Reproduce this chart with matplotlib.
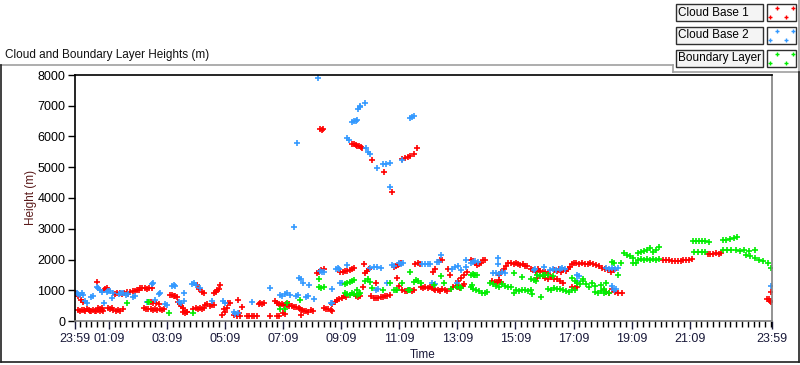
import matplotlib
matplotlib.use('Agg')
import matplotlib.pyplot as plt
from matplotlib.lines import Line2D
from matplotlib.patches import Rectangle

plt.rcParams['font.family'] = ['Liberation Sans', 'DejaVu Sans']

# hours after 23:59 and heights (m)
cb1_t = [0.00, 0.05, 0.10, 0.12, 0.18, 0.24, 0.30, 0.36, 0.42, 0.48, 0.20, 0.26,
         0.50, 0.56, 0.62, 0.68, 0.74, 0.80, 0.86, 0.92, 0.98, 0.75, 0.78, 0.85, 0.92,
         1.00, 1.05, 1.10, 1.15, 1.12, 1.20, 1.28, 1.32, 1.40, 1.48, 1.56, 1.64,
         1.38, 1.46, 1.54, 1.62, 1.70, 1.78, 1.84, 1.90, 1.98, 2.06, 2.14, 2.22,
         2.24, 2.32, 2.40, 2.48, 2.56, 2.64,
         2.36, 2.44, 2.52, 2.60, 2.68, 2.76, 2.84, 2.92, 3.00, 2.60, 2.70, 2.80, 2.88, 3.05,
         3.28, 3.34, 3.40, 3.46, 3.51, 3.55, 3.60, 3.66, 3.72, 3.78, 3.84, 3.72, 3.80, 3.86,
         4.08, 4.15, 4.22, 4.30, 4.38, 4.43, 4.20, 4.28, 4.36, 4.43,
         4.46, 4.55, 4.64, 4.72, 4.77, 4.77, 4.84, 4.90, 4.96, 5.00,
         5.06, 5.12, 5.18, 5.23, 5.28, 5.34, 5.46, 5.52, 5.58, 5.64, 5.69, 5.60, 5.76,
         5.92, 6.00, 6.08, 6.16, 6.26, 6.32, 6.38, 6.44, 6.50, 6.72,
         6.90, 6.96, 7.02, 7.07, 6.95, 7.02, 7.13, 7.20, 7.27, 7.36, 7.15, 7.22,
         7.30, 7.38, 7.46, 7.54, 7.62, 7.70, 7.76, 7.80, 7.88, 7.96, 8.04, 8.12, 8.20, 7.78,
         8.33, 8.40, 8.47, 8.56, 8.56, 8.64, 8.72, 8.80, 8.85,
         8.86, 8.94, 9.02, 9.10, 9.18, 9.26, 9.34, 9.14, 9.22, 9.30, 9.38, 9.46, 9.54, 9.60,
         9.66, 9.74, 9.82, 9.94, 10.00, 10.06, 10.12, 9.92,
         10.20, 10.28, 10.36, 10.44, 10.52, 10.60, 10.68, 10.76, 10.84, 10.38,
         11.00, 11.06, 11.12, 11.10, 11.14, 11.27, 11.35, 11.43, 11.51, 11.59, 11.66,
         11.15, 11.22, 11.72, 11.80, 11.88,
         11.90, 11.98, 12.06, 12.14, 12.22, 12.30, 12.36, 12.33, 12.38,
         12.41, 12.49, 12.57, 12.65, 12.73, 12.82, 12.56, 12.62, 12.85, 12.90,
         12.95, 13.03, 13.11, 13.19, 13.27, 13.35, 13.39, 13.20, 13.30, 13.40, 13.50,
         13.62, 13.70, 13.78, 13.85, 13.90, 13.98, 14.05, 14.12,
         14.37, 14.45, 14.53, 14.60, 14.66, 14.60, 14.68, 14.76, 14.84, 14.92, 15.00,
         15.10, 15.18, 15.26, 15.34, 15.42, 15.50, 15.58,
         15.70, 15.78, 15.86, 15.94, 16.02, 16.10, 16.20, 16.30, 15.90,
         16.10, 16.20, 16.30, 16.40, 16.50,
         16.50, 16.58, 16.66, 16.74, 16.82, 16.90, 16.98, 17.06, 16.60, 16.70, 16.80,
         17.10, 17.18, 17.26, 17.10, 17.20, 17.30,
         17.35, 17.45, 17.55, 17.65, 17.75, 17.85, 17.95,
         18.05, 18.15, 18.25, 18.35, 18.45, 18.20, 18.30, 18.40, 18.50, 18.60, 18.70, 18.85, 18.55,
         20.25, 20.35, 20.45, 20.55, 20.65, 20.75, 20.85, 20.95, 21.05, 21.15, 21.25,
         21.78, 21.88, 21.98, 22.08, 22.18, 22.24,
         23.82, 23.88, 23.93, 23.97, 23.97]
cb1_h = [900, 870, 820, 350, 330, 370, 360, 340, 380, 360, 680, 620,
         330, 310, 350, 340, 330, 360, 320, 350, 330, 1260, 420, 400, 430,
         1000, 1050, 1080, 1020, 410, 380, 420, 350, 330, 360, 320, 380,
         880, 920, 900, 870, 910, 940, 890, 930, 960, 990, 1000, 1020,
         1060, 1080, 1070, 1050, 1080, 1060,
         420, 400, 380, 390, 370, 380, 360, 390, 370, 620, 580, 600, 560, 380,
         830, 850, 800, 820, 780, 630, 560, 480, 420, 340, 300, 280, 260, 300,
         400, 420, 380, 430, 390, 410, 1170, 1050, 950, 900,
         520, 540, 500, 530, 510, 900, 950, 1000, 1050, 1180,
         200, 380, 300, 420, 580, 600, 180, 220, 150, 250, 170, 690, 470,
         160, 160, 160, 160, 160, 560, 600, 540, 580, 160,
         650, 600, 560, 520, 160, 160, 550, 520, 560, 540, 250, 220,
         520, 500, 480, 460, 450, 430, 400, 370, 340, 320, 300, 350, 330, 200,
         1550, 1600, 1650, 1700, 420, 400, 380, 360, 340,
         560, 620, 680, 720, 760, 800, 780, 1580, 1600, 1620, 1640, 1660, 1680, 1720,
         800, 780, 820, 1840, 1560, 1620, 1700, 1120,
         800, 760, 740, 760, 770, 780, 800, 820, 850, 1250,
         1750, 1800, 1820, 1400, 1150, 1000, 980, 960, 1000, 970, 1000,
         1850, 1880, 1850, 1880, 1860,
         1100, 1080, 1120, 1060, 1100, 1080, 1050, 1600, 1700,
         1000, 1020, 980, 1050, 1000, 980, 1980, 2000, 1700, 1500,
         1050, 1100, 1150, 1120, 1080, 1150, 1200, 1300, 1400, 1500, 1600,
         2000, 1950, 1880, 1820, 1850, 1900, 1980, 2000,
         1300, 1280, 1250, 1320, 1280, 1500, 1600, 1700, 1800, 1880, 1900,
         1850, 1880, 1860, 1820, 1850, 1800, 1780,
         1700, 1650, 1600, 1680, 1620, 1580, 1600, 1550, 1400,
         1450, 1400, 1380, 1420, 1350,
         1650, 1620, 1680, 1600, 1650, 1620, 1700, 1750, 1350, 1300, 1250,
         1850, 1880, 1900, 1100, 1080, 1100,
         1850, 1880, 1860, 1840, 1870, 1850, 1820,
         1780, 1720, 1680, 1650, 1600, 1000, 950, 900, 1050, 950, 900, 900, 1650,
         1980, 1990, 1970, 1960, 1950, 1960, 1950, 1970, 1980, 2000, 2010,
         2180, 2190, 2180, 2200, 2190, 2210,
         730, 700, 650, 620, 950]
# high red points (cloud base 1 aloft)
cb1_hi_t = [8.45, 8.50, 8.55, 9.54, 9.60, 9.66, 9.72, 9.78, 9.84, 9.89, 10.23, 10.63, 10.90,
            11.26, 11.35, 11.45, 11.55, 11.66, 11.76]
cb1_hi_h = [6240, 6220, 6230, 5760, 5740, 5720, 5700, 5680, 5650, 5620, 5233, 4840, 4190,
            5270, 5300, 5330, 5380, 5420, 5640]

cb2_t = [0.06, 0.12, 0.18, 0.24, 0.29, 0.33, 0.40, 0.55, 0.62, 0.75, 0.80, 0.86, 0.92,
         1.00, 1.09, 1.15, 1.22, 1.30, 1.26, 1.50, 1.58, 1.66, 1.74, 1.84, 1.98, 2.05,
         2.47, 2.64, 2.70, 2.76, 2.88, 2.94, 3.10, 3.16, 3.33, 3.40, 3.45, 3.58, 3.66, 3.74, 3.74,
         4.02, 4.10, 4.18, 4.30, 4.72, 5.10, 5.16, 5.46, 5.52, 5.60, 6.10, 6.72,
         7.07, 7.14, 7.22, 7.30, 7.40, 7.53, 7.64, 7.62, 7.68, 7.72, 7.78, 7.86, 7.95, 8.02,
         8.06, 8.22, 8.37, 8.42, 8.50, 8.58, 8.80, 8.86, 8.85, 8.98, 9.04, 9.10, 9.12, 9.20,
         9.37, 9.38, 9.45, 9.54, 9.60, 9.66, 9.71, 9.74, 9.80, 9.83, 10.00,
         10.02, 10.10, 10.17, 10.17, 10.28, 10.40, 10.52, 10.35, 10.42, 10.40,
         10.62, 10.72, 10.84, 10.73, 10.86, 10.92, 10.98, 11.15, 11.22, 11.30, 11.26,
         11.55, 11.62, 11.66, 11.95, 12.05, 12.15, 12.24, 12.30, 12.38, 12.59, 12.45, 12.55,
         12.99, 13.10, 13.20, 13.30, 13.45, 13.45, 13.15, 13.62, 13.70, 13.78, 13.86,
         14.40, 14.50, 14.60, 14.70, 14.80, 14.58, 14.58, 15.80, 15.85, 16.15,
         16.35, 16.45, 16.55, 16.70, 16.78, 16.86, 17.30, 17.35, 17.28,
         18.30, 18.40, 18.50, 18.60, 18.70, 18.55, 18.62, 18.50, 23.97]
cb2_h = [920, 880, 860, 900, 840, 640, 580, 780, 800, 1120, 1080, 1000, 950,
         580, 930, 960, 980, 920, 740, 880, 920, 900, 860, 870, 780, 800,
         630, 1200, 1230, 680, 870, 900, 560, 520, 1140, 1160, 1150, 620, 580, 650, 920,
         1200, 1220, 1180, 1060, 660, 640, 600, 300, 230, 260, 630, 1065,
         850, 820, 880, 900, 860, 3065, 5775, 800, 850, 1400, 1350, 1250, 790, 800,
         1170, 700, 7887, 1620, 1600, 1580, 580, 600, 1030, 1680, 1720, 1700, 1220, 1240,
         1820, 5960, 5900, 6480, 6500, 6520, 6550, 6880, 6950, 6980, 7075,
         5620, 5500, 5440, 1730, 1740, 1750, 1730, 1000, 1030, 4960,
         5120, 5100, 5130, 1225, 4370, 1820, 1800, 1870, 1860, 1880, 5250,
         6600, 6640, 6660, 1850, 1860, 1840, 1860, 1225, 1200, 2145, 1930, 1920,
         1700, 1750, 1800, 1650, 1750, 1980, 1225, 1870, 1930, 1950, 1920,
         1550, 1560, 1540, 1580, 1560, 2035, 1850, 1650, 1680, 1740,
         1660, 1680, 1650, 1700, 1720, 1680, 1500, 1450, 1300,
         1710, 1700, 1720, 1690, 1710, 1000, 1050, 1130, 1140]

bl_t = [1.78, 2.50, 2.55, 3.24, 4.08, 7.07, 7.24, 7.30, 7.76, 8.39, 8.40, 8.48, 8.56,
        9.30, 9.38, 9.46, 9.54, 9.60, 9.30, 9.38, 9.46, 9.54, 9.62, 9.70, 9.78, 9.83, 9.70,
        9.99, 10.08, 10.17, 10.23, 10.60, 10.83, 10.98, 11.04, 11.10, 11.27,
        11.45, 11.50, 11.55, 11.55, 11.67, 11.74, 11.82, 11.90, 12.36, 12.59, 12.70, 12.95,
        13.17, 13.24, 13.30, 13.74, 13.68, 13.62, 13.70, 13.78, 13.85,
        13.62, 13.72, 13.82, 13.92, 14.02, 14.12, 14.20,
        14.30, 14.40, 14.50, 14.60, 14.70, 14.80, 14.90, 15.00, 15.10, 15.10,
        15.20, 15.30, 15.40, 15.50, 15.60, 15.70, 15.40, 15.70, 15.80, 15.88, 15.75,
        15.90, 16.00, 16.10, 16.20, 16.30, 16.45, 16.03,
        16.30, 16.40, 16.50, 16.60, 16.70, 16.80, 16.90, 17.00, 17.10, 17.20,
        17.10, 17.20, 17.30, 17.40, 17.50, 17.50, 17.60, 17.70, 17.80, 17.90,
        17.90, 18.00, 18.10, 18.20, 18.30, 18.56, 18.70, 18.10, 18.20, 18.30, 18.40,
        18.50, 18.80, 18.90, 19.00, 19.10, 19.20, 19.20, 19.30,
        19.40, 19.50, 19.60, 19.70, 19.80, 19.90, 20.00, 20.10,
        19.40, 19.50, 19.60, 19.70, 19.80, 19.90, 20.00, 20.11,
        21.27, 21.40, 21.50, 21.60, 21.70, 21.84, 21.30, 21.45, 21.60, 21.70,
        22.30, 22.40, 22.55, 22.70, 22.80,
        22.30, 22.45, 22.60, 22.75, 22.90, 23.05, 23.20, 23.40,
        23.10, 23.25, 23.40, 23.55, 23.70, 23.85, 23.97]
bl_h = [580, 630, 620, 250, 250, 380, 380, 580, 680, 1350, 1100, 1080, 1100,
        1200, 1250, 1280, 1300, 1320, 900, 880, 850, 900, 870, 860, 880, 900, 1010,
        1300, 1350, 1280, 1060, 1010, 1225, 1010, 1000, 1020, 1250,
        1010, 1000, 1020, 1600, 1280, 1320, 1300, 1250, 1170, 1450, 1225, 1030,
        1100, 1120, 1080, 1490, 1170, 1500, 1520, 1480, 1500,
        1100, 1050, 1000, 960, 920, 900, 950,
        1250, 1200, 1150, 1100, 1200, 1150, 1100, 1120, 1550, 900,
        1000, 980, 1020, 1000, 960, 1000, 1440, 1380, 1340, 1300, 880,
        1480, 1460, 1500, 1480, 1500, 1470, 770,
        1040, 1020, 1060, 1030, 1050, 1000, 980, 950, 1020, 1000,
        1400, 1300, 1250, 1200, 1350, 1300, 1200, 1100, 1250, 1150,
        950, 900, 960, 920, 1225, 1870, 1500, 1170, 1050, 950, 900,
        1910, 1880, 2200, 2150, 2100, 2050, 1880, 1900,
        2000, 2020, 1990, 2010, 2000, 2020, 1980, 2010,
        2200, 2250, 2280, 2300, 2360, 2260, 2300, 2400,
        2600, 2610, 2600, 2590, 2600, 2580, 2230, 2240, 2230, 2250,
        2650, 2640, 2680, 2700, 2720,
        2300, 2320, 2300, 2310, 2290, 2300, 2280, 2300,
        2150, 2100, 2050, 2000, 1950, 1880, 1710]

major_ticks = [0, 70 / 60] + [70 / 60 + 2 * k for k in range(1, 11)] + [24]
major_labels = ['23:59', '01:09', '03:09', '05:09', '07:09', '09:09', '11:09',
                '13:09', '15:09', '17:09', '19:09', '21:09', '23:59']
y_ticks = [0, 1000, 2000, 3000, 4000, 5000, 6000, 7000, 8000]

W, H = 800, 365
FS = 8.5
fig = plt.figure(figsize=(8, 3.65), dpi=100)
fig.patch.set_facecolor('white')


def fx(x):
    return x / W


def fy(y):
    return 1 - y / H


ax = fig.add_axes([fx(75), fy(321), 697 / W, 246 / H])

mk = dict(linestyle='none', marker='+', markersize=4, markeredgewidth=1.2)
ax.plot(cb1_t, cb1_h, color='#ff0000', **mk)
ax.plot(cb1_hi_t, cb1_hi_h, color='#ff0000', **mk)
ax.plot(cb2_t, cb2_h, color='#3399ff', **mk)
ax.plot(bl_t, bl_h, color='#00ee00', **mk)

ax.set_xlim(0, 24)
ax.set_ylim(0, 8000)
ax.set_xticks(major_ticks)
ax.set_xticklabels(major_labels)
minor = [70 / 60 + 0.2 * k for k in range(-5, 115)]
ax.set_xticks([m for m in minor if 0 < m < 24], minor=True)
ax.set_yticks(y_ticks)
ax.set_yticklabels([str(v) for v in y_ticks])

ax.tick_params(axis='x', which='major', length=6, width=1, pad=3, labelsize=FS + 0.5,
               colors='#1a1a3a')
ax.tick_params(axis='x', which='minor', length=4, width=1)
ax.tick_params(axis='y', which='major', length=5, width=1, pad=2, labelsize=FS + 0.5)

for s in ['top', 'left']:
    ax.spines[s].set_color('black')
for s in ['right', 'bottom']:
    ax.spines[s].set_color('#808080')
for s in ax.spines.values():
    s.set_linewidth(1.2)

fig.text(fx(31), fy(197), 'Height (m)', rotation=90, ha='center', va='center',
         fontsize=FS, color='#5a1a1a')
fig.text(fx(423), fy(355), 'Time', ha='center', va='center', fontsize=FS, color='#1a1a3a')
fig.text(fx(5), fy(55), 'Cloud and Boundary Layer Heights (m)', ha='left', va='center',
         fontsize=FS, color='#111111')

# outer panel frame
frame = [([0, 673], [65, 65], '#a0a0a0'), ([673, 673], [65, 72], '#a0a0a0'),
         ([673, 799], [72, 72], '#a0a0a0'), ([799, 799], [0, 72], '#a0a0a0'),
         ([1, 1], [65, 362], '#202020'), ([1, 799], [362, 362], '#202020'),
         ([799, 799], [72, 362], '#202020')]
for xs, ys, c in frame:
    fig.add_artist(Line2D([fx(v) for v in xs], [fy(v) for v in ys], color=c, lw=1.2))

# legend
legend_labels = ['Cloud Base 1', 'Cloud Base 2', 'Boundary Layer']
legend_colors = ['#ff0000', '#3399ff', '#00ee00']
legend_tops = [4, 27, 50]
for lab, col, top in zip(legend_labels, legend_colors, legend_tops):
    fig.add_artist(Rectangle((fx(676), fy(top + 17)), 87 / W, 17 / H, transform=fig.transFigure,
                             facecolor='#f4f4f4', edgecolor='#303030', lw=1))
    fig.text(fx(678), fy(top + 8.5), lab, ha='left', va='center', fontsize=FS, color='black')
    fig.add_artist(Rectangle((fx(767), fy(top + 17)), 29 / W, 17 / H, transform=fig.transFigure,
                             facecolor='white', edgecolor='#303030', lw=1))
    pts = [(777, top + 3.5), (792.5, top + 3.5), (770, top + 13), (785.5, top + 13)]
    fig.add_artist(Line2D([fx(p[0]) for p in pts], [fy(p[1]) for p in pts], linestyle='none',
                          marker='+', markersize=3, markeredgewidth=1, color=col))

fig.savefig('out.png', dpi=100)
